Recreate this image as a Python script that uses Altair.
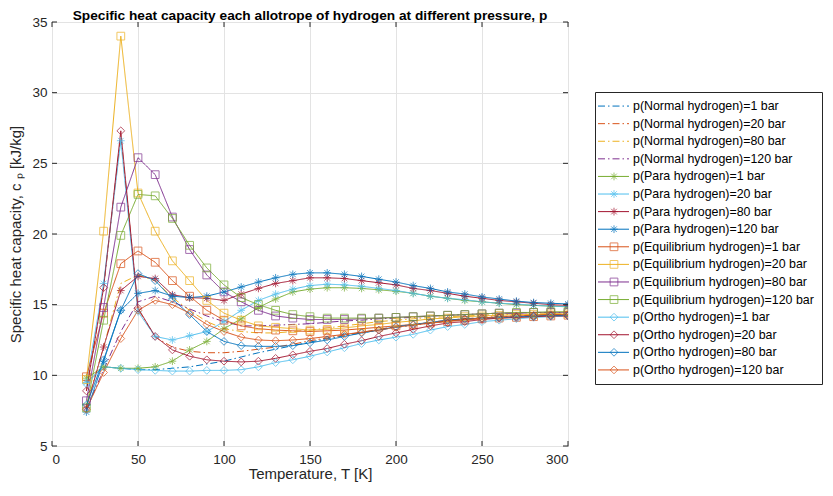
import altair as alt
import pandas as pd

T = [20, 30, 40, 50, 60, 70, 80, 90, 100, 110, 120, 130, 140, 150, 160, 170, 180,
     190, 200, 210, 220, 230, 240, 250, 260, 270, 280, 290, 300]

normal_1 = [9.5, 10.6, 10.5, 10.4, 10.4, 10.5, 10.6, 10.8, 11.0, 11.3, 11.6, 11.85, 12.1, 12.35, 12.6,
            12.8, 13.0, 13.2, 13.4, 13.55, 13.7, 13.85, 13.95, 14.05, 14.1, 14.15, 14.2, 14.25, 14.25]
normal_20 = [8.9, 16.2, 27.0, 14.7, 12.7, 12.0, 11.7, 11.6, 11.6, 11.7, 11.85, 12.0, 12.2, 12.45, 12.65,
             12.85, 13.05, 13.25, 13.45, 13.6, 13.75, 13.9, 14.0, 14.1, 14.15, 14.2, 14.25, 14.3, 14.3]
normal_80 = [7.9, 12.0, 16.5, 17.1, 16.7, 15.5, 14.6, 13.8, 13.3, 13.1, 13.0, 13.0, 13.1, 13.2, 13.35,
             13.5, 13.65, 13.8, 13.9, 14.0, 14.1, 14.15, 14.2, 14.25, 14.3, 14.3, 14.35, 14.35, 14.35]
normal_120 = [7.6, 10.4, 13.1, 15.2, 15.6, 15.2, 14.7, 14.2, 13.8, 13.5, 13.5, 13.55, 13.6, 13.65, 13.75,
              13.85, 13.9, 14.0, 14.05, 14.1, 14.2, 14.25, 14.3, 14.35, 14.4, 14.4, 14.45, 14.45, 14.45]
para_1 = [9.8, 10.6, 10.5, 10.5, 10.6, 11.0, 11.8, 12.4, 13.3, 14.0, 14.8, 15.4, 15.9, 16.1, 16.2,
          16.2, 16.15, 16.05, 15.95, 15.8, 15.6, 15.45, 15.3, 15.2, 15.1, 15.0, 14.95, 14.9, 14.85]
para_20 = [9.5, 16.5, 26.6, 14.5, 12.75, 12.5, 12.8, 13.1, 13.8, 14.6, 15.3, 15.75, 16.1, 16.35, 16.45,
           16.4, 16.3, 16.15, 16.0, 15.8, 15.6, 15.45, 15.35, 15.2, 15.1, 15.05, 14.95, 14.9, 14.85]
para_80 = [7.7, 12.0, 16.0, 17.0, 16.85, 15.7, 15.5, 15.45, 15.3, 15.75, 16.15, 16.5, 16.7, 16.9, 16.9,
           16.85, 16.7, 16.55, 16.4, 16.15, 16.0, 15.8, 15.6, 15.45, 15.3, 15.2, 15.1, 15.0, 14.95]
para_120 = [7.4, 11.0, 14.6, 15.8, 16.0, 15.6, 15.5, 15.6, 15.9, 16.25, 16.6, 16.9, 17.15, 17.25, 17.25,
            17.15, 17.0, 16.8, 16.6, 16.35, 16.15, 15.9, 15.75, 15.55, 15.4, 15.25, 15.15, 15.1, 15.05]
eq_1 = [9.9, 14.4, 17.9, 18.8, 18.0, 16.7, 15.6, 14.6, 13.9, 13.5, 13.3, 13.2, 13.15, 13.1, 13.15,
        13.2, 13.3, 13.4, 13.5, 13.6, 13.7, 13.8, 13.9, 14.0, 14.05, 14.1, 14.15, 14.2, 14.25]
eq_20 = [9.7, 20.2, 34.0, 22.9, 20.2, 18.1, 16.7, 15.3, 14.4, 13.9, 13.5, 13.4, 13.3, 13.2, 13.25,
         13.35, 13.5, 13.6, 13.75, 13.85, 14.0, 14.05, 14.15, 14.2, 14.25, 14.3, 14.3, 14.35, 14.35]
eq_80 = [8.2, 14.8, 21.9, 25.4, 24.2, 21.2, 18.9, 17.1, 15.9, 15.2, 14.6, 14.2, 14.05, 13.95, 13.95,
         13.95, 14.0, 14.05, 14.1, 14.15, 14.2, 14.25, 14.3, 14.35, 14.4, 14.4, 14.45, 14.45, 14.45]
eq_120 = [7.7, 13.9, 19.9, 22.8, 22.7, 21.1, 19.2, 17.6, 16.4, 15.5, 15.0, 14.6, 14.3, 14.15, 14.05,
          14.05, 14.05, 14.05, 14.1, 14.15, 14.2, 14.25, 14.3, 14.35, 14.4, 14.45, 14.45, 14.5, 14.5]
ortho_1 = [9.4, 10.6, 10.5, 10.4, 10.35, 10.3, 10.3, 10.35, 10.35, 10.4, 10.6, 10.9, 11.1, 11.35, 11.65,
           11.95, 12.25, 12.5, 12.7, 12.9, 13.2, 13.45, 13.6, 13.8, 13.9, 14.0, 14.1, 14.15, 14.2]
ortho_20 = [8.9, 16.2, 27.3, 14.75, 12.75, 11.8, 11.35, 11.1, 11.0, 10.95, 11.0, 11.2, 11.45, 11.7, 11.9,
            12.2, 12.45, 12.75, 13.0, 13.25, 13.5, 13.7, 13.8, 13.95, 14.05, 14.1, 14.15, 14.2, 14.2]
ortho_80 = [7.9, 11.1, 14.6, 17.2, 16.7, 15.4, 14.3, 13.1, 12.4, 12.1, 12.05, 12.05, 12.1, 12.3, 12.5,
            12.75, 13.0, 13.2, 13.45, 13.6, 13.75, 13.9, 14.0, 14.05, 14.1, 14.15, 14.2, 14.25, 14.25]
ortho_120 = [7.6, 10.2, 12.6, 14.6, 15.3, 15.0, 14.4, 13.6, 13.1, 12.7, 12.5, 12.45, 12.5, 12.6, 12.75,
             12.9, 13.05, 13.2, 13.4, 13.55, 13.7, 13.85, 13.95, 14.05, 14.15, 14.2, 14.25, 14.3, 14.3]

x_ticks = [0, 50, 100, 150, 200, 250, 300]
y_ticks = [5, 10, 15, 20, 25, 30, 35]

TITLE = "Specific heat capacity each allotrope of hydrogen at different pressure, p"
names = [
    "p(Normal hydrogen)=1 bar", "p(Normal hydrogen)=20 bar", "p(Normal hydrogen)=80 bar",
    "p(Normal hydrogen)=120 bar",
    "p(Para hydrogen)=1 bar", "p(Para hydrogen)=20 bar", "p(Para hydrogen)=80 bar",
    "p(Para hydrogen)=120 bar",
    "p(Equilibrium hydrogen)=1 bar", "p(Equilibrium hydrogen)=20 bar", "p(Equilibrium hydrogen)=80 bar",
    "p(Equilibrium hydrogen)=120 bar",
    "p(Ortho hydrogen)=1 bar", "p(Ortho hydrogen)=20 bar", "p(Ortho hydrogen)=80 bar",
    "p(Ortho hydrogen)=120 bar",
]
families = ["Normal"] * 4 + ["Para"] * 4 + ["Equilibrium"] * 4 + ["Ortho"] * 4
series_values = [normal_1, normal_20, normal_80, normal_120, para_1, para_20, para_80, para_120,
                 eq_1, eq_20, eq_80, eq_120, ortho_1, ortho_20, ortho_80, ortho_120]

BLUE, ORANGE, YELLOW, PURPLE = "#0072BD", "#D95319", "#EDB120", "#7E2F8E"
GREEN, LBLUE, DRED = "#77AC30", "#4DBEEE", "#A2142F"
colors = [BLUE, ORANGE, YELLOW, PURPLE, GREEN, LBLUE, DRED, BLUE,
          ORANGE, YELLOW, PURPLE, GREEN, LBLUE, DRED, BLUE, ORANGE]
DASHDOT = [7, 3, 1.5, 3]
SOLID = [1, 0]
dashes = [DASHDOT] * 4 + [SOLID] * 12
ASTERISK = "M-1,0L1,0M0,-1L0,1M-0.72,-0.72L0.72,0.72M-0.72,0.72L0.72,-0.72"
shapes = ["circle"] * 4 + [ASTERISK] * 4 + ["square"] * 4 + ["diamond"] * 4

rows = []
for name, fam, vals in zip(names, families, series_values):
    for t, v in zip(T, vals):
        rows.append({"T": t, "cp": v, "series": name, "family": fam})
df = pd.DataFrame(rows)

FONT = "Liberation Sans"
AXC = "#262626"
W, H = 516, 424
LW, LH = 227, 292
color_enc = alt.Color("series:N", scale=alt.Scale(domain=names, range=colors), legend=None)
dash_enc = alt.StrokeDash("series:N", scale=alt.Scale(domain=names, range=dashes), legend=None)
shape_enc = alt.Shape("series:N", scale=alt.Scale(domain=names, range=shapes), legend=None)

x_enc = alt.X("T:Q", scale=alt.Scale(domain=[0, 300], nice=False),
              axis=alt.Axis(values=x_ticks, title="Temperature, T [K]",
                            labelPadding=6, titlePadding=1))
y_enc = alt.Y("cp:Q", scale=alt.Scale(domain=[5, 35], nice=False, zero=False),
              axis=alt.Axis(values=y_ticks, title="Specific heat capacity, c ₚ [kJ/kg]",
                            labelPadding=5, titlePadding=8))

base = alt.Chart(df)
lines = base.mark_line(strokeWidth=1, clip=True).encode(
    x=x_enc, y=y_enc, color=color_enc, strokeDash=dash_enc, detail="series:N")
points = base.transform_filter(alt.datum.family != "Normal").mark_point(
    filled=False, strokeWidth=1, size=60, clip=True).encode(
    x="T:Q", y="cp:Q", color=color_enc, shape=shape_enc)

# inward tick marks on all four sides (MATLAB box style)
xt = alt.Chart(pd.DataFrame({"T": x_ticks}))
yt = alt.Chart(pd.DataFrame({"cp": y_ticks}))
tick_b = xt.mark_rule(color=AXC, strokeWidth=1).encode(x="T:Q", y=alt.value(H), y2=alt.value(H - 5))
tick_t = xt.mark_rule(color=AXC, strokeWidth=1).encode(x="T:Q", y=alt.value(0), y2=alt.value(5))
tick_l = yt.mark_rule(color=AXC, strokeWidth=1).encode(y="cp:Q", x=alt.value(0), x2=alt.value(5))
tick_r = yt.mark_rule(color=AXC, strokeWidth=1).encode(y="cp:Q", x=alt.value(W), x2=alt.value(W - 5))

title_mark = alt.Chart(pd.DataFrame({"t": [TITLE]})).mark_text(
    align="center", baseline="alphabetic", font=FONT, fontSize=13.7, fontWeight="bold",
    color="black").encode(x=alt.value(W / 2), y=alt.value(-2), text="t:N")

main = alt.layer(lines, points, tick_b, tick_t, tick_l, tick_r, title_mark).properties(
    width=W, height=H)

# invisible spacer that pushes the legend box down
spacer = alt.Chart(pd.DataFrame({"series": [names[0]]})).mark_text().encode(
    x=alt.value(0), y=alt.value(0), text=alt.value("")
).properties(width=LW, height=69, view=alt.ViewBackground(stroke=None))

leg_df = pd.DataFrame({"series": names, "family": families})
leg_y = alt.Y("series:N", sort=names,
              scale=alt.Scale(type="point", domain=names, padding=0.8), axis=None)
leg_rules = alt.Chart(leg_df).mark_rule(strokeWidth=1).encode(
    x=alt.value(3), x2=alt.value(34), y=leg_y, color=color_enc, strokeDash=dash_enc)
leg_points = alt.Chart(leg_df).transform_filter(alt.datum.family != "Normal").mark_point(
    filled=False, strokeWidth=1, size=60).encode(
    x=alt.value(19), y=leg_y, color=color_enc, shape=shape_enc)
leg_text = alt.Chart(leg_df).mark_text(
    align="left", baseline="middle", font=FONT, fontSize=12.4, color="black").encode(
    x=alt.value(38), y=leg_y, text="series:N")
legend = alt.layer(leg_rules, leg_points, leg_text).properties(width=LW, height=LH)

right = alt.vconcat(spacer, legend, spacing=0)

chart = alt.hconcat(main, right, spacing=25).properties(
    padding={"left": 0, "top": 0, "right": 0, "bottom": 0}
).configure_view(
    stroke=AXC, strokeWidth=1
).configure_axis(
    labelFont=FONT, titleFont=FONT, labelFontSize=13.5, titleFontSize=15,
    titleFontWeight="normal", labelColor=AXC, titleColor=AXC,
    gridColor="#e3e3e3", gridWidth=1, domain=False, ticks=False, tickSize=0,
)

chart.save("out.html", embed_options={"renderer": "svg", "actions": False})
